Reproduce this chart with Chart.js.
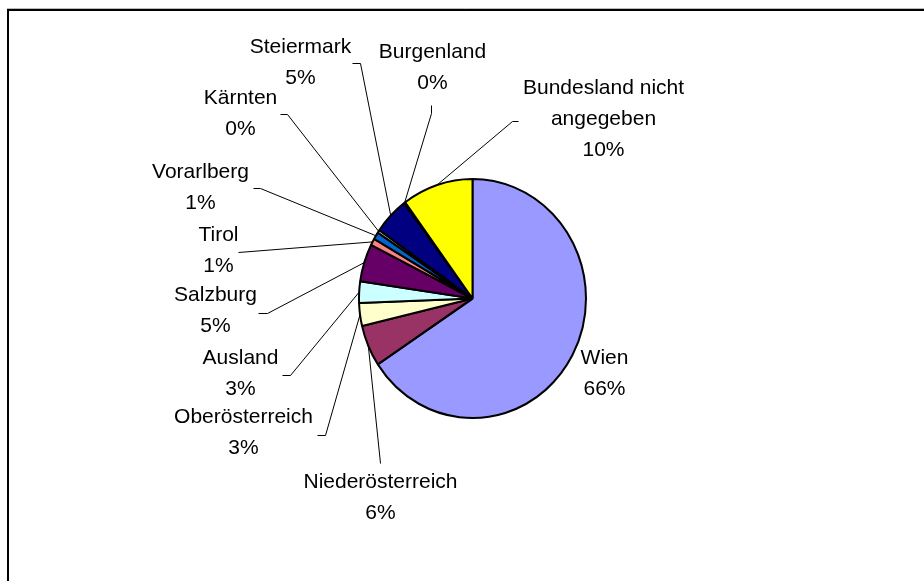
<!DOCTYPE html>
<html>
<head>
<meta charset="utf-8">
<script src="https://cdn.jsdelivr.net/npm/chart.js@4/dist/chart.umd.min.js"></script>
<style>
  html, body { margin: 0; padding: 0; background: #fff; }
  #wrap { width: 924px; height: 581px; position: relative; }
</style>
</head>
<body>
<div id="wrap"><canvas id="pieChart"></canvas></div>
<script>
// data (share in %)
const regions = ['Wien', 'Niederösterreich', 'Oberösterreich', 'Ausland', 'Salzburg', 'Tirol',
    'Vorarlberg', 'Kärnten', 'Steiermark', 'Burgenland', 'Bundesland nicht angegeben'];
const regionLines = [['Wien'], ['Niederösterreich'], ['Oberösterreich'], ['Ausland'], ['Salzburg'], ['Tirol'],
    ['Vorarlberg'], ['Kärnten'], ['Steiermark'], ['Burgenland'], ['Bundesland nicht', 'angegeben']];
const shares = [65.7, 5.6, 3.1, 2.9, 5.1, 0.9, 1.0, 0.4, 5.0, 0.2, 10.1];

// excel 2003 fill palette
const sliceColors = ['#9999FF', '#993366', '#FFFFCC', '#CCFFFF', '#660066', '#FF8080',
    '#0066CC', '#CCCCFF', '#000080', '#FF00FF', '#FFFF00'];

// label layout, relative to the pie centre: first text line centre, and leader stub (start, bend)
const labelPos = [[132, 60], [-92, 184], [-229, 119], [-232, 60], [-257, -3], [-254, -63],
    [-272, -126], [-232, -200], [-172, -251], [-40, -246], [131, -210]];
const leaderStub = [null, [-92, 165, -92, 165], [-155, 137, -147, 137], [-190, 77, -182, 77],
    [-214, 15, -205, 15], [-234, -46, -234, -46], [-219, -110, -212, -110], [-192, -184, -185, -184],
    [-120, -235, -112, -235], [-41, -193, -41, -185], [46, -177, 40, -177]];

const yStretch = 1.053;
const lineH = 31;

const pieDecor = {
    id: 'pieDecor',
    beforeDraw(chart) {
        const ctx = chart.ctx;
        ctx.save();
        ctx.strokeStyle = '#bbb';
        ctx.lineWidth = 1;
        ctx.beginPath();
        ctx.moveTo(7, 8.5); ctx.lineTo(924, 8.5);
        ctx.stroke();
        ctx.strokeStyle = '#000';
        ctx.lineWidth = 2;
        ctx.beginPath();
        ctx.moveTo(8, 600); ctx.lineTo(8, 10); ctx.lineTo(924, 10);
        ctx.stroke();
        ctx.restore();
    },
    beforeDatasetsDraw(chart) {
        const arc = chart.getDatasetMeta(0).data[0];
        const ctx = chart.ctx;
        ctx.save();
        ctx.translate(arc.x, arc.y);
        ctx.scale(1, yStretch);
        ctx.translate(-arc.x, -arc.y);
    },
    afterDatasetsDraw(chart) {
        const ctx = chart.ctx;
        ctx.restore();
        const meta = chart.getDatasetMeta(0);
        const total = shares.reduce((a, b) => a + b, 0);
        ctx.save();
        ctx.font = '21px "Liberation Sans", Arial, sans-serif';
        ctx.fillStyle = '#000';
        ctx.textAlign = 'center';
        ctx.textBaseline = 'middle';
        meta.data.forEach((el, i) => {
            const p = el.getProps(['x', 'y', 'startAngle', 'endAngle', 'outerRadius'], true);
            const cx = p.x, cy = p.y;
            const lines = regionLines[i].concat([Math.round(shares[i] / total * 100) + '%']);
            lines.forEach((t, k) => {
                ctx.fillText(t, cx + labelPos[i][0], cy + labelPos[i][1] + k * lineH);
            });
            const st = leaderStub[i];
            if (!st) return;
            const mid = (p.startAngle + p.endAngle) / 2;
            const ex = cx + p.outerRadius * Math.cos(mid);
            const ey = cy + p.outerRadius * yStretch * Math.sin(mid);
            ctx.strokeStyle = '#000';
            ctx.lineWidth = 1;
            ctx.beginPath();
            ctx.moveTo(cx + st[0], cy + st[1]);
            ctx.lineTo(cx + st[2], cy + st[3]);
            ctx.lineTo(ex, ey);
            ctx.stroke();
        });
        ctx.restore();
    }
};

new Chart(document.getElementById('pieChart').getContext('2d'), {
    type: 'pie',
    data: {
        labels: regions,
        datasets: [{
            data: shares,
            backgroundColor: sliceColors,
            borderColor: '#000',
            borderWidth: 2,
            hoverOffset: 0
        }]
    },
    options: {
        responsive: true,
        maintainAspectRatio: false,
        animation: false,
        events: [],
        radius: 113.5,
        layout: { padding: { left: 21, right: 0, top: 16, bottom: 0 } },
        plugins: {
            legend: { display: false },
            tooltip: { enabled: false },
            title: { display: false }
        }
    },
    plugins: [pieDecor]
});
</script>
</body>
</html>
